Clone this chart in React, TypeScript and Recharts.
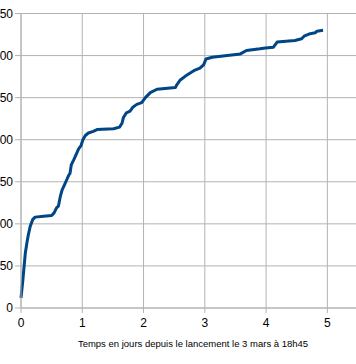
import React from "react";
import { LineChart, Line, XAxis, YAxis, CartesianGrid } from "recharts";

const days = [
  0, 0.03, 0.07, 0.1, 0.12, 0.15, 0.19, 0.23, 0.37, 0.5, 0.54, 0.58, 0.61, 0.64, 0.67, 0.72, 0.75, 0.78, 0.8,
  0.82, 0.86, 0.91, 0.94, 0.98, 1.01, 1.05, 1.1, 1.18, 1.24, 1.51, 1.61, 1.65, 1.67, 1.72, 1.78, 1.83, 1.89,
  1.97, 2.03, 2.11, 2.22, 2.52, 2.54, 2.6, 2.71, 2.82, 2.92, 2.98, 3.02, 3.12, 3.58, 3.68, 3.9, 3.99, 4.12,
  4.18, 4.47, 4.58, 4.62, 4.72, 4.8, 4.83, 4.93,
];
const counts = [
  12, 33, 65, 79, 87, 97, 105, 108, 109, 110, 113, 119, 121, 132, 140, 148, 153, 158, 160,
  170, 176, 184, 189, 193, 200, 205, 208, 210, 212, 213, 215, 220, 226, 232, 234, 239, 242,
  244, 250, 256, 260, 262, 265, 271, 277, 282, 285, 289, 296, 298, 302, 306, 308, 309, 310,
  316, 318, 320, 323, 326, 327, 329, 330,
];
const xTicks = [0, 1, 2, 3, 4, 5];
const yTicks = [0, 50, 100, 150, 200, 250, 300, 350];
const xTitle = "Temps en jours depuis le lancement le 3 mars à 18h45";

const data = days.map((d, i) => ({ day: d, count: counts[i] }));

const TitleLabel = (props: any) => {
  const vb = props.viewBox || {};
  return (
    <text
      x={vb.x + 172}
      y={vb.y + 39}
      textAnchor="middle"
      fontSize={9.5}
      fontFamily="Liberation Sans, Arial, sans-serif"
      fill="#000"
    >
      {xTitle}
    </text>
  );
};

export default function App() {
  return (
    <div style={{ position: "absolute", left: 0, top: 0, width: 356, height: 364, overflow: "hidden", background: "#fff" }}>
      <div style={{ marginLeft: -20 }}>
        <LineChart
          width={378}
          height={364}
          data={data}
          margin={{ top: 13.5, right: 0, bottom: 0, left: 1 }}
        >
          <CartesianGrid stroke="#b3b3b3" strokeWidth={1} />
          <XAxis
            dataKey="day"
            type="number"
            domain={[0, 5.5]}
            ticks={xTicks}
            height={56}
            tickSize={5}
            tickMargin={5}
            stroke="#b3b3b3"
            tick={{ fill: "#000", fontSize: 12, fontFamily: "Liberation Sans, Arial, sans-serif" }}
            label={<TitleLabel />}
          />
          <YAxis
            type="number"
            domain={[0, 350]}
            ticks={yTicks}
            width={40}
            tickSize={6}
            tickMargin={2}
            stroke="#b3b3b3"
            tick={{ fill: "#000", fontSize: 12, fontFamily: "Liberation Sans, Arial, sans-serif" }}
          />
          <Line
            type="linear"
            dataKey="count"
            stroke="#004586"
            strokeWidth={3}
            dot={false}
            isAnimationActive={false}
            strokeLinejoin="round"
          />
        </LineChart>
      </div>
    </div>
  );
}
